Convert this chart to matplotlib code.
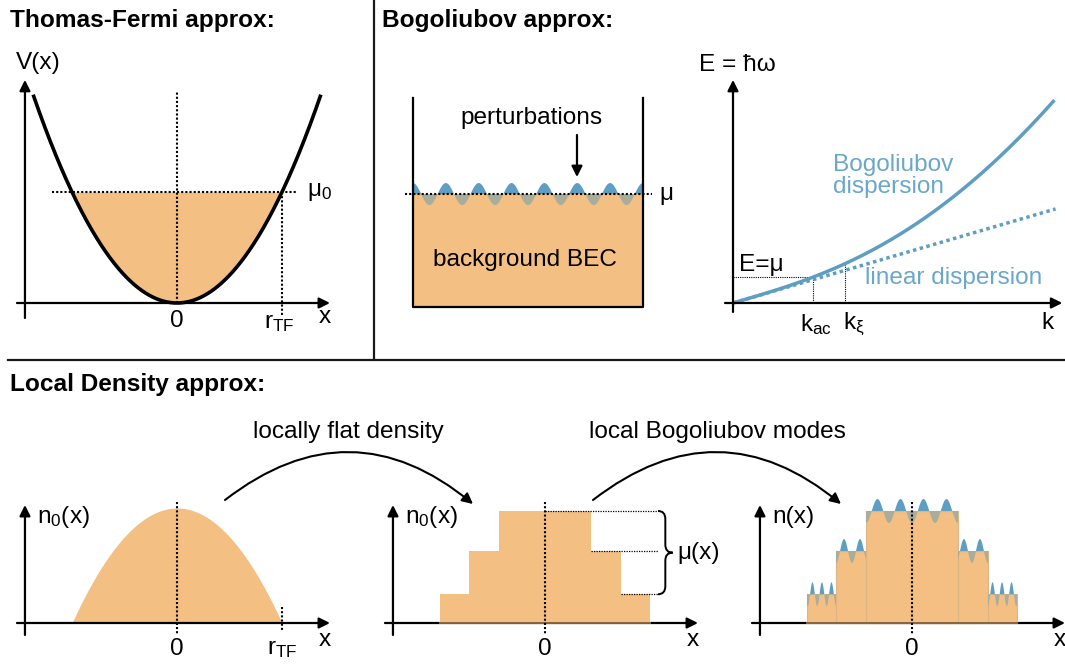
import numpy as np
import matplotlib
matplotlib.use("Agg")
import matplotlib.pyplot as plt
from matplotlib.patches import FancyArrowPatch, PathPatch, Rectangle
from matplotlib.path import Path

plt.rcParams['font.family'] = ['Liberation Sans', 'DejaVu Sans']
plt.rcParams['mathtext.fontset'] = 'custom'
plt.rcParams['mathtext.rm'] = 'Liberation Sans'
plt.rcParams['mathtext.it'] = 'Liberation Sans:italic'

# ---------------- data ----------------
# Thomas-Fermi potential V(x) = x^2 (units: r_TF = 1, mu0 = 1)
TF_MU0 = 1.0
TF_R = 1.0
TF_XRANGE = 1.37
# Bogoliubov box (units: box width = 1)
BOX_HEIGHT = 0.909
BOX_MU = 0.491
BOX_WAVELENGTH = 1.0 / 7.0
BOX_AMP = 0.048
# dispersion E(k) = sqrt((c k)^2 + (b k^2)^2) (units: k_xi = 1)
SOUND_SPEED = 1.42
KIN_COEF = 0.95
K_MAX = 2.87
K_AC = 0.714
K_XI = 1.0
# local density approximation: steps (units: r_TF = 1, n0(0) = 1)
STEP_HALFWIDTH = [1.0, 0.724, 0.438]
STEP_HEIGHT = [0.25, 0.626, 0.974]
WAVE_LAMBDA = [0.0905, 0.152, 0.219]
WAVE_PEAK0 = [0.767, 0.495, 0.1095]
WAVE_AMP = 0.104

# ---------------- style ----------------
W, H = 1065, 664
ORANGE = "#f3bf82"
BLUE = "#5e9ec2"
BLUE_TXT = "#6aa7c9"
GRAY_WAVE = "#a9ad9c"
EDGE = "#dcb684"
FS = 17.6
FS_TITLE = 17.6
DOT = (0, (1, 1))

fig = plt.figure(figsize=(W / 100, H / 100), dpi=100)

ov = fig.add_axes([0, 0, 1, 1])
ov.set_xlim(0, W)
ov.set_ylim(H, 0)
ov.axis('off')


def panel(bbox, origin, scale):
    x0, y0, x1, y1 = bbox
    ox, oy = origin
    sx, sy = scale
    ax = fig.add_axes([x0 / W, 1 - y1 / H, (x1 - x0) / W, (y1 - y0) / H])
    ax.set_xlim((x0 - ox) / sx, (x1 - ox) / sx)
    ax.set_ylim((oy - y1) / sy, (oy - y0) / sy)
    ax.axis('off')
    return ax


def arrow(ax, p0, p1, lw=1.6, ms=16, zorder=5):
    a = FancyArrowPatch(p0, p1, arrowstyle='-|>', mutation_scale=ms, lw=lw,
                        color='k', shrinkA=0, shrinkB=0, zorder=zorder)
    ax.add_patch(a)


def txt(ax, x, y, s, ha='center', va='center', **kw):
    kw.setdefault('fontsize', FS)
    ax.text(x, y, s, ha=ha, va=va, **kw)


# ---------------- overlay: titles, dividers, curved arrows ----------------
txt(ov, 10, 20, "Thomas-Fermi approx:", ha='left', fontweight='bold', fontsize=FS_TITLE)
txt(ov, 382, 20, "Bogoliubov approx:", ha='left', fontweight='bold', fontsize=FS_TITLE)
txt(ov, 10, 385, "Local Density approx:", ha='left', fontweight='bold', fontsize=FS_TITLE)
ov.plot([374, 374], [0, 359], color='#1a1a1a', lw=1.6)
ov.plot([8, W], [360, 360], color='#1a1a1a', lw=1.6)
for (p0, p1, label, lx) in [((225, 500), (473, 504), "locally flat density", 348),
                            ((593, 500), (841, 504), "local Bogoliubov modes", 717)]:
    ov.add_patch(FancyArrowPatch(p0, p1, connectionstyle="arc3,rad=-0.4",
                                 arrowstyle='-|>', mutation_scale=16, lw=1.5,
                                 color='k', shrinkA=0, shrinkB=0))
    txt(ov, lx, 432, label)

# ---------------- Thomas-Fermi panel ----------------
ax = panel((0, 40, 372, 355), (177, 303), (105, 111))
xf = np.linspace(-TF_R, TF_R, 300)
ax.fill_between(xf, xf ** 2, TF_MU0, color=ORANGE, lw=0, zorder=1)
xc = np.linspace(-TF_XRANGE, TF_XRANGE, 400)
ax.plot(xc, xc ** 2, color='k', lw=2.6, zorder=4, solid_capstyle='butt')
arrow(ax, (-1.448, -0.135), (-1.448, 2.01))
arrow(ax, (-1.524, 0), (1.457, 0))
ax.plot([-1.19, 1.143], [TF_MU0, TF_MU0], color='k', lw=1.5, ls=DOT, zorder=3)
ax.plot([0, 0], [0, 1.9], color='k', lw=1.5, ls=DOT, zorder=3)
ax.plot([TF_R, TF_R], [TF_MU0, -0.11], color='k', lw=1.5, ls=DOT, zorder=3)
txt(ax, 1.24, TF_MU0, r"μ$_\mathrm{0}$", ha='left')
txt(ax, 0, -0.16, "0")
txt(ax, TF_R - 0.03, -0.18, r"r$_\mathrm{TF}$")
txt(ax, 1.41, -0.13, "x")
txt(ax, -1.32, 2.16, "V(x)")

# ---------------- Bogoliubov box ----------------
ax = panel((378, 40, 700, 340), (413, 307), (230, 230))
ax.add_patch(Rectangle((0, 0), 1, BOX_MU, color=ORANGE, lw=0, zorder=1))
xb = np.linspace(0, 1, 600)
wb = BOX_MU + BOX_AMP * np.cos(2 * np.pi * xb / BOX_WAVELENGTH)
ax.fill_between(xb, BOX_MU, wb, where=wb >= BOX_MU, interpolate=True, color=BLUE, lw=0, zorder=2)
ax.fill_between(xb, BOX_MU, wb, where=wb <= BOX_MU, interpolate=True, color=GRAY_WAVE, lw=0, zorder=2)
ax.plot([0, 0, 1, 1], [BOX_HEIGHT, 0, 0, BOX_HEIGHT], color='k', lw=1.6, zorder=4)
ax.plot([-0.035, 1.04], [BOX_MU, BOX_MU], color='k', lw=1.5, ls=DOT, zorder=3)
txt(ax, 1.072, BOX_MU, "μ", ha='left')
txt(ax, 0.517, 0.822, "perturbations")
arrow(ax, (0.713, 0.748), (0.713, 0.565))
txt(ax, 0.487, 0.204, "background BEC")

# ---------------- dispersion ----------------
ax = panel((700, 40, 1065, 345), (733, 303), (112, 23))


def e_bog(k):
    return np.sqrt((SOUND_SPEED * k) ** 2 + (KIN_COEF * k ** 2) ** 2)


arrow(ax, (0, -0.39), (0, 9.7))
arrow(ax, (-0.071, 0), (2.94, 0))
kk = np.linspace(0, K_MAX, 400)
ax.plot(kk, e_bog(kk), color=BLUE, lw=2.5, zorder=4, solid_capstyle='butt')
kl = np.array([0, 2.88])
ax.plot(kl, SOUND_SPEED * kl, color=BLUE, lw=2.5, ls=DOT, zorder=3)
emu = e_bog(K_AC)
ax.plot([0, K_AC, K_AC], [emu, emu, 0], color='k', lw=0.8, ls=DOT, zorder=2)
ax.plot([K_XI, K_XI], [e_bog(K_XI), 0], color='k', lw=0.8, ls=DOT, zorder=2)
txt(ax, 0.036, 10.35, "E = ħω")
txt(ax, 2.81, -0.87, "k")
txt(ax, K_AC + 0.03, -0.95, r"k$_\mathrm{ac}$")
txt(ax, K_XI - 0.02, -0.95, r"k$_\mathrm{ξ}$", ha='left')
txt(ax, 0.054, 1.65, "E=μ", ha='left')
txt(ax, 0.893, 6.0, "Bogoliubov", ha='left', color=BLUE_TXT)
txt(ax, 0.893, 5.05, "dispersion", ha='left', color=BLUE_TXT)
txt(ax, 1.18, 1.09, "linear dispersion", ha='left', color=BLUE_TXT)

# ---------------- LDA panels ----------------
def lda_axes(ax, ylabel):
    arrow(ax, (-1.448, -0.104), (-1.448, 1.026))
    arrow(ax, (-1.524, 0), (1.457, 0))
    txt(ax, 0, -0.23, "0")
    txt(ax, 1.41, -0.15, "x")
    txt(ax, -1.33, 0.92, ylabel, ha='left')


# left: smooth TF profile
ax = panel((0, 480, 372, 664), (177, 623), (105, 115))
xn = np.linspace(-TF_R, TF_R, 300)
ax.fill_between(xn, 0, 1 - xn ** 2, color=ORANGE, lw=0, zorder=1)
lda_axes(ax, r"n$_\mathrm{0}$(x)")
ax.plot([0, 0], [1.05, -0.104], color='k', lw=1.5, ls=DOT, zorder=3)
ax.plot([TF_R, TF_R], [0.14, -0.08], color='k', lw=1.5, ls=DOT, zorder=3)
txt(ax, TF_R, -0.23, r"r$_\mathrm{TF}$")

# middle: steps
ax = panel((378, 480, 740, 664), (545, 623), (105, 115))
lda_axes(ax, r"n$_\mathrm{0}$(x)")
for hw, h in zip(STEP_HALFWIDTH, STEP_HEIGHT):
    ax.add_patch(Rectangle((-hw, 0), 2 * hw, h, color=ORANGE, lw=0, zorder=6))
ax.plot([-STEP_HALFWIDTH[0], STEP_HALFWIDTH[0]], [0, 0], color='#8a6438', lw=1.4, zorder=7)
ax.plot([0, 0], [1.05, -0.104], color='k', lw=1.5, ls=DOT, zorder=8)
xr = 1.076
starts = [STEP_HALFWIDTH[1], STEP_HALFWIDTH[2], 0]
for s, h in zip(starts, STEP_HEIGHT):
    ax.plot([s, xr], [h, h], color='k', lw=0.9, ls=DOT, zorder=8)
# curly brace
yt, yb = STEP_HEIGHT[2], STEP_HEIGHT[0]
ym = 0.5 * (yt + yb)
bx, bw, r = 1.076, 0.14, 0.07
verts = [(bx, yt), (bx + bw / 2, yt), (bx + bw / 2, yt - r),
         (bx + bw / 2, ym + r),
         (bx + bw / 2, ym), (bx + bw, ym),
         (bx + bw / 2, ym), (bx + bw / 2, ym - r),
         (bx + bw / 2, yb + r),
         (bx + bw / 2, yb), (bx, yb)]
codes = [Path.MOVETO, Path.CURVE3, Path.CURVE3, Path.LINETO,
         Path.CURVE3, Path.CURVE3, Path.CURVE3, Path.CURVE3,
         Path.LINETO, Path.CURVE3, Path.CURVE3]
ax.add_patch(PathPatch(Path(verts, codes), fill=False, lw=1.4, color='k', zorder=8))
txt(ax, 1.257, ym, "μ(x)", ha='left')

# right: steps with local Bogoliubov modes
ax = panel((745, 480, 1065, 664), (912, 623), (105, 115))
lda_axes(ax, "n(x)")
for hw, h in zip(STEP_HALFWIDTH, STEP_HEIGHT):
    ax.add_patch(Rectangle((-hw, 0), 2 * hw, h, facecolor=ORANGE, edgecolor=EDGE, lw=0.8, zorder=6))
ax.plot([-STEP_HALFWIDTH[0], STEP_HALFWIDTH[0]], [0, 0], color='#8a6438', lw=1.4, zorder=7)
inner = STEP_HALFWIDTH[1:] + [0.0]
for hw, inn, h, lam, p0 in zip(STEP_HALFWIDTH, inner, STEP_HEIGHT, WAVE_LAMBDA, WAVE_PEAK0):
    for sgn in (-1, 1):
        xa = np.linspace(inn, hw, 300)
        wv = h + WAVE_AMP * np.cos(2 * np.pi * (xa - p0) / lam)
        ax.fill_between(sgn * xa, h, wv, where=wv >= h, interpolate=True, color=BLUE, lw=0, zorder=7)
        ax.fill_between(sgn * xa, h, wv, where=wv <= h, interpolate=True, color=GRAY_WAVE, lw=0, zorder=7)
ax.plot([0, 0], [1.05, -0.104], color='k', lw=1.5, ls=DOT, zorder=8)

fig.savefig("out.png", dpi=100)
